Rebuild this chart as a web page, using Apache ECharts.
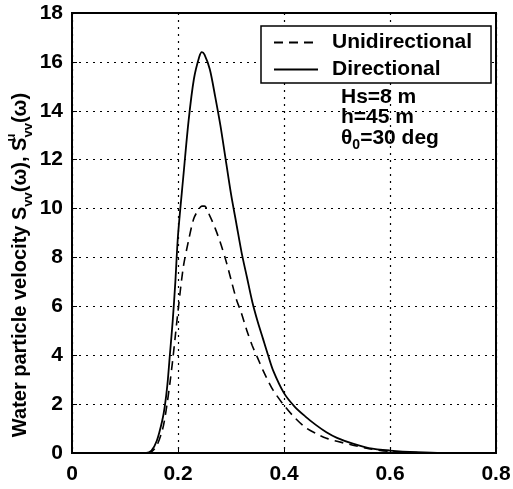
<!DOCTYPE html>
<html><head><meta charset="utf-8">
<script src="https://cdn.jsdelivr.net/npm/echarts@6/dist/echarts.min.js"></script>
<style>html,body{margin:0;padding:0;background:#fff}#c{width:513px;height:489px}</style>
</head><body><div id="c"></div>
<script>
var omega = [0, 0.14, 0.15, 0.16, 0.17, 0.175, 0.18, 0.185, 0.19, 0.195, 0.2, 0.21, 0.22, 0.23, 0.24, 0.245, 0.25, 0.26, 0.27, 0.28, 0.29, 0.30, 0.31, 0.32, 0.33, 0.34, 0.35, 0.36, 0.37, 0.38, 0.40, 0.42, 0.44, 0.46, 0.48, 0.50, 0.53, 0.56, 0.60, 0.65, 0.70, 0.8];
var directional = [0, 0, 0.1, 0.5, 1.3, 1.9, 2.8, 4.1, 5.4, 7.0, 8.9, 11.3, 13.6, 15.3, 16.2, 16.4, 16.3, 15.7, 14.6, 13.4, 12.0, 10.6, 9.4, 8.2, 7.2, 6.2, 5.4, 4.7, 4.0, 3.35, 2.45, 1.9, 1.5, 1.15, 0.85, 0.62, 0.38, 0.2, 0.1, 0.03, 0, 0];
var unidirectional = [0, 0, 0.05, 0.3, 0.9, 1.4, 2.1, 2.9, 3.8, 4.8, 5.8, 7.6, 8.7, 9.6, 10.0, 10.1, 10.1, 9.7, 9.2, 8.6, 7.9, 7.1, 6.3, 5.7, 5.0, 4.4, 3.9, 3.4, 2.95, 2.55, 1.95, 1.45, 1.05, 0.8, 0.6, 0.48, 0.32, 0.18, 0.06, 0.02, 0, 0];
var seriesNames = ['Unidirectional', 'Directional'];
var annotations = ['Hs=8 m', 'h=45 m'];

function pairs(ys){ return omega.map(function(x,i){ return [x, ys[i]]; }); }
var FONT = 'Liberation Sans, Arial, sans-serif';
var chart = echarts.init(document.getElementById('c'), null, {renderer:'canvas'});
var grid = {left:72, right:17, top:13, bottom:36, show:true, borderColor:'#000', borderWidth:2,
  containLabel:false, outerBoundsMode:'none'};
chart.setOption({
  animation:false,
  backgroundColor:'#fff',
  grid: grid,
  xAxis: {type:'value', min:0, max:0.8, interval:0.2,
    axisLine:{lineStyle:{color:'#000', width:2}},
    axisTick:{inside:true, length:5, lineStyle:{color:'#000'}},
    axisLabel:{color:'#000', fontFamily:FONT, fontWeight:'bold', fontSize:21, margin:11,
      formatter:function(v){ return v===0 ? '0' : v.toFixed(1); }},
    splitLine:{show:true, lineStyle:{color:'#000', type:[2,5], width:1.2, opacity:1}}
  },
  yAxis: {type:'value', min:0, max:18, interval:2,
    axisLine:{lineStyle:{color:'#000', width:2}},
    axisTick:{inside:true, length:5, lineStyle:{color:'#000'}},
    axisLabel:{color:'#000', fontFamily:FONT, fontWeight:'bold', fontSize:21, margin:9},
    splitLine:{show:true, lineStyle:{color:'#000', type:[2,5], width:1.2, opacity:1}}
  },
  legend: {
    orient:'vertical', left:261, top:26, padding:[6,19,3,12], itemGap:6,
    itemWidth:44, itemHeight:14, backgroundColor:'#fff',
    borderColor:'#000', borderWidth:1.5,
    itemStyle:{opacity:0},
    textStyle:{color:'#000', fontFamily:FONT, fontWeight:'bold', fontSize:21, padding:[0,0,0,9]},
    data: seriesNames
  },
  series: [
    {name:seriesNames[0], type:'line', data:pairs(unidirectional), smooth:0.3, symbol:'none',
      lineStyle:{color:'#000', width:1.6, type:[9,6]}, itemStyle:{color:'#000'}},
    {name:seriesNames[1], type:'line', data:pairs(directional), smooth:0.3, symbol:'none',
      lineStyle:{color:'#000', width:1.8, type:'solid'}, itemStyle:{color:'#000'}}
  ],
  graphic: [
    {type:'text', x:20, y:265, rotation:Math.PI/2, z:100,
      style:{text:'Water particle velocity S{sub|vv}(ω), S{sup|u}{sub|vv}(ω)', fill:'#000',
        font:'bold 20px '+FONT, align:'center', verticalAlign:'middle', lineHeight:30,
        rich:{
          sub:{fontSize:13, fontFamily:FONT, fontWeight:'bold', fill:'#000', verticalAlign:'bottom', lineHeight:30},
          sup:{fontSize:13, fontFamily:FONT, fontWeight:'bold', fill:'#000', verticalAlign:'top', lineHeight:30, width:0, align:'left'}
        }}},
    {type:'text', left:341, top:87, z:100, style:{text:annotations[0], fill:'#000', font:'bold 21px '+FONT}},
    {type:'text', left:341, top:107, z:100, style:{text:annotations[1], fill:'#000', font:'bold 21px '+FONT}},
    {type:'text', left:341, top:128, z:100, style:{text:'θ{sub|0}=30 deg', fill:'#000', font:'bold 21px '+FONT,
      rich:{sub:{fontSize:14, fontFamily:FONT, fontWeight:'bold', fill:'#000', verticalAlign:'bottom', lineHeight:28}}}}
  ]
});
</script></body></html>
